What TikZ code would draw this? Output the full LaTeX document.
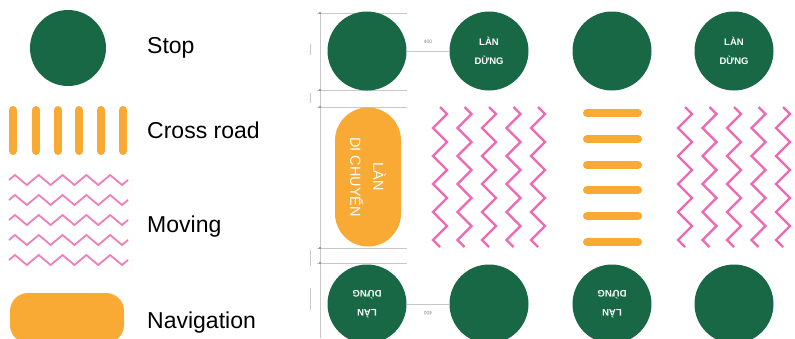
\documentclass[tikz,border=0pt]{standalone}
\usepackage{fontspec}
\setmainfont{Liberation Sans}
\usetikzlibrary{positioning,decorations.pathmorphing}
\definecolor{stopgreen}{RGB}{24,104,70}
\definecolor{navorange}{RGB}{249,170,52}
\definecolor{movepink}{RGB}{240,104,178}
\definecolor{keypink}{RGB}{236,128,184}
\definecolor{dimgray}{RGB}{200,200,200}
\begin{document}
\begin{tikzpicture}[x=1pt, y=-1pt,
  stop/.style={shape=circle, fill=stopgreen, minimum size=79pt, inner sep=0pt, text=white, align=center, font=\bfseries\fontsize{9.5}{19}\selectfont},
  lane/.style={rounded corners=33pt, fill=navorange, minimum width=139pt, minimum height=66pt, inner sep=0pt, text=white, align=center, font=\fontsize{14.5}{23}\selectfont},
  navkey/.style={rounded corners=18pt, fill=navorange, minimum width=114pt, minimum height=50pt},
  crossbar/.style={draw=navorange, line width=8pt, line cap=round},
  moving/.style={draw=movepink, line width=2.2pt, decorate, decoration={zigzag, segment length=28pt, amplitude=7pt}},
  keymoving/.style={draw=keypink, line width=1.8pt, decorate, decoration={zigzag, segment length=23.8pt, amplitude=5pt}},
  keytext/.style={anchor=west, inner sep=0pt, font=\fontsize{23}{28}\selectfont},
  dimline/.style={draw=dimgray, line width=0.6pt},
  dimlabel/.style={font=\fontsize{5}{6}\selectfont, text=gray, inner sep=1pt}]
\useasboundingbox (0,0) rectangle (795,338);
% legend
\node[stop, minimum size=76pt] (kstop) at (68,48) {};
\node[keytext] (tstop) at (147,48) {Stop};
\draw[crossbar] (13,110) -- (13,151);
\draw[crossbar] (36,110) -- (36,151);
\draw[crossbar] (58,110) -- (58,151);
\draw[crossbar] (79,110) -- (79,151);
\draw[crossbar] (101,110) -- (101,151);
\draw[crossbar] (123,110) -- (123,151);
\node[keytext] (tcross) at (147,130) {Cross road};
\draw[keymoving] (9,180) -- (128,180);
\draw[keymoving] (9,200) -- (128,200);
\draw[keymoving] (9,220) -- (128,220);
\draw[keymoving] (9,240) -- (128,240);
\draw[keymoving] (9,260) -- (128,260);
\node[keytext] (tmove) at (147,227) {Moving};
\node[navkey] (knav) at (67,318) {};
\node[keytext] (tnav) at (147,323) {Navigation};
% dimensions
\draw[dimline] (320,13) -- (320,338);
\foreach \y in {13,90,107,248,263} {
  \draw[dimline] (317,\y) -- (407,\y);
  \fill[gray] (320,\y) circle (1.1pt);
}
\draw[dimline] (310,44) -- (310,55);
\draw[dimline] (310,93) -- (310,103);
\draw[dimline] (310,250) -- (310,266);
\draw[dimline] (310,288) -- (310,310);
% stop lanes
\node[stop] (s1) at (367,51) {};
\node[stop] (s2) at (489,51) {LÀN\\DỪNG};
\node[stop] (s3) at (612,51) {};
\node[stop] (s4) at (734,51) {LÀN\\DỪNG};
\node[stop, rotate=180] (s5) at (367,304) {LÀN\\DỪNG};
\node[stop] (s6) at (489,304) {};
\node[stop, rotate=180] (s7) at (612,304) {LÀN\\DỪNG};
\node[stop] (s8) at (734,304) {};
\draw[dimline] (s1) -- (s2) node[dimlabel, midway, yshift=9pt] {400};
\draw[dimline] (s5) -- (s6) node[dimlabel, midway, yshift=-9pt, rotate=180] {400};
% moving lane
\node[lane, rotate=-90] (lane) at (368,177) {LÀN\\DI CHUYỂN};
% moving zigzags
\draw[moving] (440,107) -- (440,247);
\draw[moving] (464.5,107) -- (464.5,247);
\draw[moving] (489,107) -- (489,247);
\draw[moving] (513.5,107) -- (513.5,247);
\draw[moving] (538,107) -- (538,247);
\draw[moving] (685,107) -- (685,247);
\draw[moving] (709.5,107) -- (709.5,247);
\draw[moving] (734,107) -- (734,247);
\draw[moving] (758.5,107) -- (758.5,247);
\draw[moving] (783,107) -- (783,247);
% cross road
\draw[crossbar] (587,113) -- (638,113);
\draw[crossbar] (587,139) -- (638,139);
\draw[crossbar] (587,165) -- (638,165);
\draw[crossbar] (587,190) -- (638,190);
\draw[crossbar] (587,216) -- (638,216);
\draw[crossbar] (587,242) -- (638,242);
\end{tikzpicture}
\end{document}
